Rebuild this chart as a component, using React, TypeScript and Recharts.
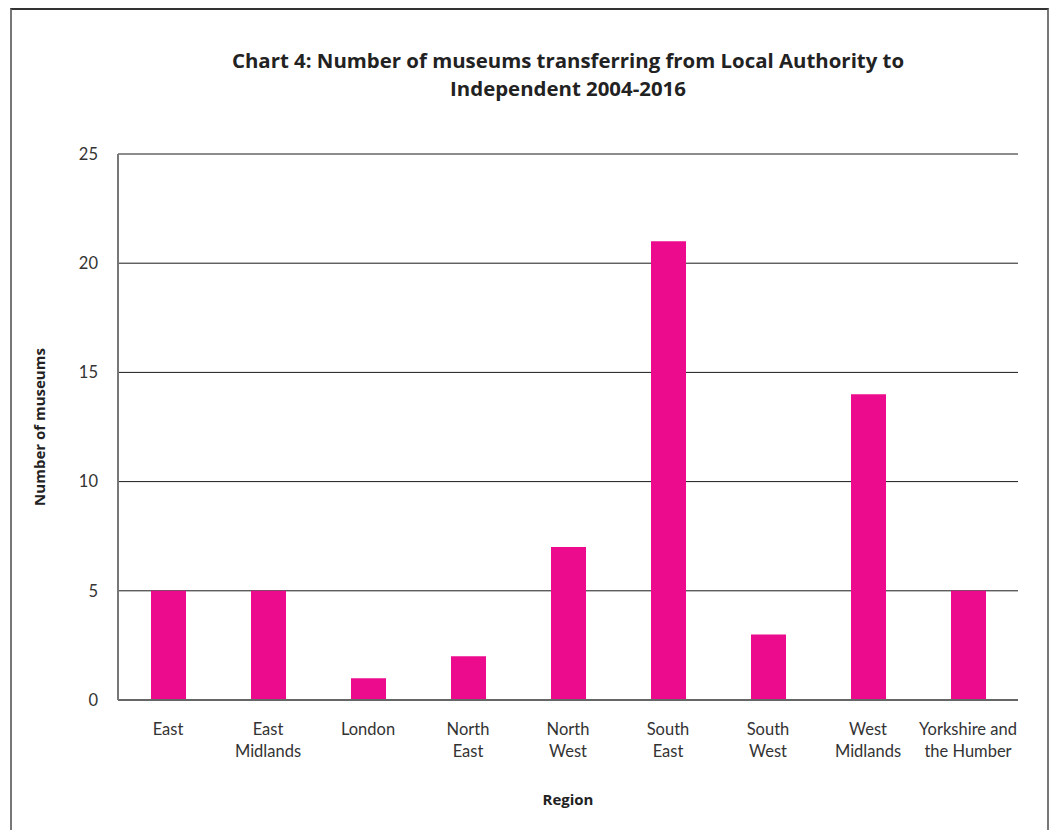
import React from "react";
import { BarChart, Bar, XAxis, YAxis, CartesianGrid } from "recharts";

const regions = [
  "East",
  "East\nMidlands",
  "London",
  "North\nEast",
  "North\nWest",
  "South\nEast",
  "South\nWest",
  "West\nMidlands",
  "Yorkshire and\nthe Humber",
];
const museums = [5, 5, 1, 2, 7, 21, 3, 14, 5];
const yTicks = [0, 5, 10, 15, 20, 25];

const data = regions.map((region, i) => ({ region, museums: museums[i] }));

const FONT = "Lato, 'Open Sans', sans-serif";
const BOLD_FONT = "'Open Sans', Lato, sans-serif";

function RegionTick(props: any) {
  const { x, y, payload } = props;
  const lines = String(payload.value).split("\n");
  return (
    <text x={x} y={y} textAnchor="middle" fill="#333" fontSize={16.5} fontFamily={FONT}>
      {lines.map((line, i) => (
        <tspan key={i} x={x} dy={i === 0 ? 27 : 22}>
          {line}
        </tspan>
      ))}
    </text>
  );
}

export default function App() {
  return (
    <div style={{ position: "absolute", left: 0, top: 0, width: 1049, height: 830, background: "#fff" }}>
      <div
        style={{
          position: "absolute",
          left: 10,
          top: 8,
          width: 1039,
          height: 830,
          borderLeft: "2px solid #777",
          borderTop: "2px solid #333",
          borderRight: "2px solid #777",
          boxSizing: "border-box",
        }}
      />
      <div
        style={{
          position: "absolute",
          left: 118,
          width: 900,
          top: 46,
          textAlign: "center",
          fontFamily: BOLD_FONT,
          fontWeight: 700,
          fontSize: 20.4,
          lineHeight: "28px",
          color: "#222",
        }}
      >
        Chart 4: Number of museums transferring from Local Authority to
        <br />
        Independent 2004-2016
      </div>
      <div style={{ position: "absolute", left: 0, top: 0 }}>
        <BarChart
          width={1049}
          height={830}
          data={data}
          margin={{ top: 154, right: 31, left: 58, bottom: 70 }}
        >
          <CartesianGrid vertical={false} stroke="#1a1a1a" strokeWidth={1} />
          <XAxis
            dataKey="region"
            interval={0}
            height={60}
            tickLine={false}
            axisLine={{ stroke: "#666", strokeWidth: 2 }}
            tick={<RegionTick />}
            label={{
              value: "Region",
              position: "insideBottom",
              offset: -45,
              fill: "#222",
              fontWeight: 700,
              fontSize: 15,
              fontFamily: BOLD_FONT,
            }}
          />
          <YAxis
            width={60}
            domain={[0, 25]}
            ticks={yTicks}
            tickLine={false}
            axisLine={{ stroke: "#777", strokeWidth: 2 }}
            tickMargin={14}
            tick={{ fill: "#333", fontSize: 16.5, fontFamily: FONT }}
            label={{
              value: "Number of museums",
              angle: -90,
              position: "insideLeft",
              offset: -18,
              style: { textAnchor: "middle" },
              fill: "#222",
              fontWeight: 700,
              fontSize: 15,
              fontFamily: BOLD_FONT,
            }}
          />
          <Bar dataKey="museums" fill="#ec0b8d" barSize={35} isAnimationActive={false} />
        </BarChart>
      </div>
    </div>
  );
}
